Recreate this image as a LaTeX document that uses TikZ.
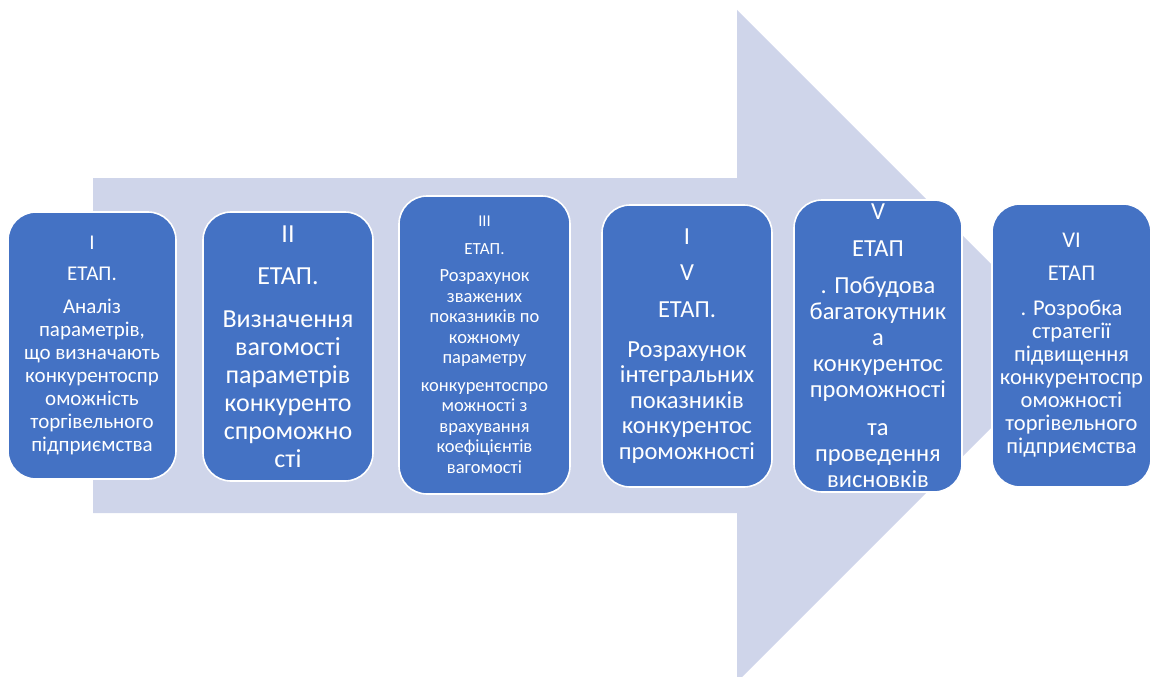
\documentclass[tikz,border=0pt]{standalone}
\usepackage{fontspec}
\setmainfont{Carlito}
\definecolor{boxblue}{HTML}{4472C4}
\definecolor{arrowfill}{HTML}{CFD5EA}
\tikzset{
  stagebox/.style={draw=white, line width=1.6pt, fill=boxblue, rounded corners=28pt,
    text=white, align=center, inner sep=0pt},
}
\begin{document}
\begin{tikzpicture}[x=1pt,y=-1pt]
\useasboundingbox (0,0) rectangle (1152,677);
% big arrow
\fill[arrowfill] (93,178) -- (737,178) -- (737,10) -- (1073,346) -- (737,682) -- (737,513) -- (93,513) -- cycle;

\node[stagebox, minimum width=168pt, minimum height=267pt,
  font=\fontsize{21}{23}\selectfont] (b1) at (92,345.5)
  {I\\[8pt] ЕТАП.\\[10pt] Аналіз\\ параметрів,\\ що визначають\\ конкурентоспр\\ оможність\\ торгівельного\\ підприємства};

\node[stagebox, minimum width=170pt, minimum height=269pt,
  font=\fontsize{26}{28}\selectfont] (b2) at (288,346.5)
  {II\\[14pt] ЕТАП.\\[15pt] Визначення\\ вагомості\\ параметрів\\ конкуренто\\ спроможно\\ сті};

\node[stagebox, minimum width=171pt, minimum height=298pt,
  font=\fontsize{18.5}{20.5}\selectfont] (b3) at (484.5,345)
  {{\fontsize{16.5}{20.5}\selectfont III}\\[7pt] {\fontsize{17}{20.5}\selectfont ЕТАП.}\\[7pt] Розрахунок\\ зважених\\ показників по\\ кожному\\ параметру\\[7pt] конкурентоспро\\ можності з\\ врахування\\ коефіцієнтів\\ вагомості};

\node[stagebox, minimum width=170pt, minimum height=282pt,
  font=\fontsize{24.5}{25.5}\selectfont] (b4) at (687,346)
  {I\\[10pt] V\\[12pt] ЕТАП.\\[14pt] Розрахунок\\ інтегральних\\ показників\\ конкурентос\\ проможності};

\node[stagebox, minimum width=168pt, minimum height=292pt,
  font=\fontsize{24.5}{26}\selectfont] (b5) at (878,346)
  {V\\[11pt] ЕТАП\\[11pt] . Побудова\\ багатокутник\\ а\\ конкурентос\\ проможності\\[12pt] та\\ проведення\\ висновків};

\node[stagebox, minimum width=159pt, minimum height=283pt,
  font=\fontsize{22.5}{23}\selectfont] (b6) at (1071.5,345.5)
  {VI\\[10pt] ЕТАП\\[12pt] . Розробка\\ стратегії\\ підвищення\\ конкурентоспр\\ оможності\\ торгівельного\\ підприємства};
\end{tikzpicture}
\end{document}
